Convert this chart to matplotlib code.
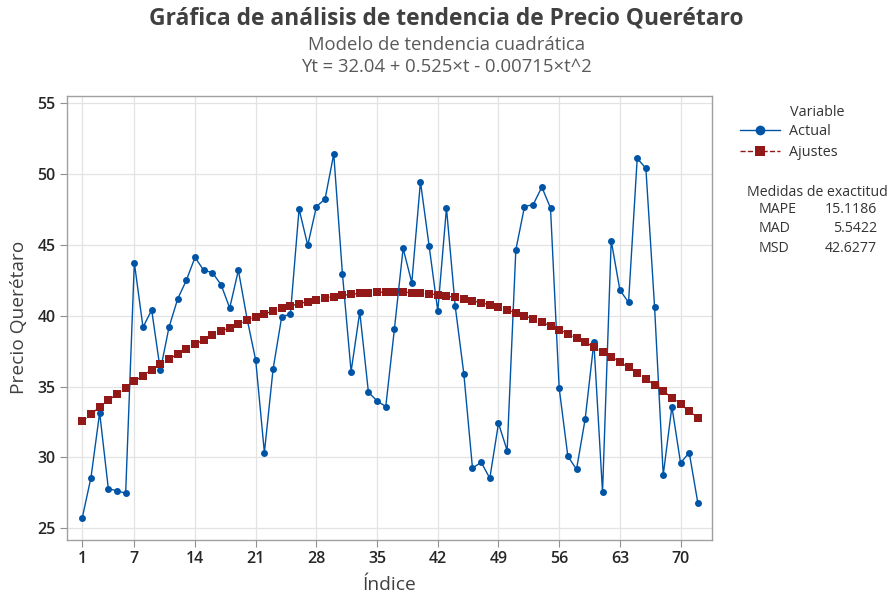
import matplotlib
matplotlib.use("Agg")
import matplotlib.pyplot as plt
from matplotlib.lines import Line2D

plt.rcParams['font.family'] = ['Open Sans', 'DejaVu Sans']

indice = list(range(1, 73))
actual = [25.75, 28.58, 33.16, 27.80, 27.64, 27.47, 43.75, 39.19, 40.41, 36.15,
          39.19, 41.19, 42.51, 44.13, 43.21, 43.05, 42.20, 40.55, 43.21, 39.80,
          36.86, 30.34, 36.22, 39.94, 40.11, 47.54, 44.98, 47.71, 48.25, 51.42,
          42.98, 36.06, 40.27, 34.60, 33.99, 33.59, 39.09, 44.76, 42.34, 49.47,
          44.93, 40.34, 47.61, 40.72, 35.92, 29.24, 29.66, 28.53, 32.41, 30.48,
          44.65, 47.71, 47.85, 49.09, 47.61, 34.88, 30.08, 29.16, 32.72, 38.13,
          27.54, 45.31, 41.82, 40.95, 51.12, 50.41, 40.65, 28.76, 33.59, 29.61,
          30.34, 26.76]
ajustes = [32.558, 33.061, 33.551, 34.026, 34.486, 34.933, 35.365, 35.782, 36.186, 36.575,
           36.950, 37.310, 37.657, 37.989, 38.306, 38.610, 38.899, 39.173, 39.434, 39.680,
           39.912, 40.129, 40.333, 40.522, 40.696, 40.857, 41.003, 41.134, 41.252, 41.355,
           41.444, 41.518, 41.579, 41.625, 41.656, 41.674, 41.677, 41.665, 41.640, 41.600,
           41.546, 41.477, 41.395, 41.298, 41.186, 41.061, 40.921, 40.766, 40.598, 40.415,
           40.218, 40.006, 39.781, 39.541, 39.286, 39.018, 38.735, 38.437, 38.126, 37.800,
           37.460, 37.105, 36.737, 36.354, 35.956, 35.545, 35.119, 34.678, 34.224, 33.755,
           33.272, 32.774]
xticks = [1, 7, 14, 21, 28, 35, 42, 49, 56, 63, 70]
yticks = [25, 30, 35, 40, 45, 50, 55]
medidas = ["MAPE", "MAD", "MSD"]
medidas_val = ["15.1186", "5.5422", "42.6277"]

BLUE = '#0054A6'
RED = '#931818'
TXT = '#333333'

fig = plt.figure(figsize=(8.93, 5.99), dpi=100)
ax = fig.add_axes([66.7/893, 1-540/599, (712.3-66.7)/893, (540-95.7)/599])

ax.plot(indice, actual, color=BLUE, linewidth=1.0, marker='o',
        markersize=5.0, markeredgewidth=0, zorder=2, label='Actual')
ax.plot(indice, ajustes, color=RED, linestyle='--', linewidth=1.0, marker='s',
        markersize=5.8, markeredgewidth=0, zorder=3, label='Ajustes')

ax.set_xlim(-0.8, 73.66)
ax.set_ylim(24.17, 55.54)
ax.set_xticks(xticks)
ax.set_yticks(yticks)
ax.grid(True, color='#e3e3e3', linewidth=0.9)
ax.set_axisbelow(True)
for s in ax.spines.values():
    s.set_color('#a0a0a0')
    s.set_linewidth(1.0)
ax.tick_params(axis='both', direction='out', length=5, color='#909090',
               labelsize=11.5, labelcolor='#262626', pad=3)
for lbl in ax.get_xticklabels() + ax.get_yticklabels():
    lbl.set_fontweight('semibold')

ax.set_xlabel('Índice', fontsize=13.8, color='#404040')
ax.set_ylabel('Precio Querétaro', fontsize=13.8, color='#404040')
ax.xaxis.set_label_coords(0.5, (540-585)/444.3)
ax.yaxis.set_label_coords((19-66.7)/645.6, 0.5)
ax.xaxis.label.set_va('center')
ax.yaxis.label.set_va('center')

fig.text(0.5, 1-18/599, 'Gráfica de análisis de tendencia de Precio Querétaro',
         ha='center', va='center', fontsize=16.4, fontweight='bold', color='#404040')
fig.text(0.5, 1-44.5/599, 'Modelo de tendencia cuadrática',
         ha='center', va='center', fontsize=13.3, color='#595959')
fig.text(0.5, 1-67.5/599, 'Yt = 32.04 + 0.525×t - 0.00715×t^2',
         ha='center', va='center', fontsize=13.3, color='#595959')

handles = [Line2D([], [], color=BLUE, linewidth=1.0, marker='o', markersize=7, markeredgewidth=0),
           Line2D([], [], color=RED, linewidth=1.0, linestyle='--', marker='s', markersize=7,
                  markeredgewidth=0)]
leg = fig.legend(handles, ['Actual', 'Ajustes'], loc='upper left',
                 bbox_to_anchor=(740/893, 1-124/599), frameon=False,
                 fontsize=10.4, handlelength=2.8, handletextpad=0.6,
                 labelspacing=0.42, borderpad=0, borderaxespad=0)
for t in leg.get_texts():
    t.set_color(TXT)
fig.text(790/893, 1-112/599, 'Variable', ha='left', va='center', fontsize=10.4, color=TXT)

fig.text(747/893, 1-192/599, 'Medidas de exactitud', ha='left', va='center',
         fontsize=10.2, color=TXT)
for i, (m, v) in enumerate(zip(medidas, medidas_val)):
    y = 1 - (210 + i*19)/599
    fig.text(759/893, y, m, ha='left', va='center', fontsize=10.2, color=TXT)
    fig.text(877/893, y, v, ha='right', va='center', fontsize=10.2, color=TXT)

fig.savefig('out.png', dpi=100)
